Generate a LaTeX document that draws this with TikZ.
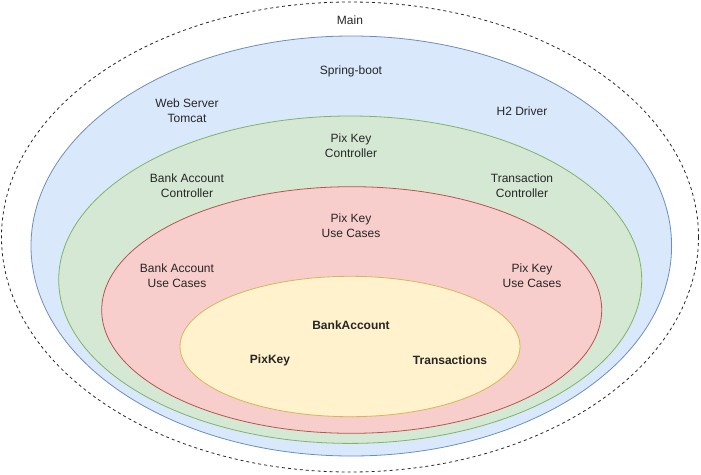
\documentclass[tikz,border=0pt]{standalone}
\usepackage{fontspec}
\setmainfont{Liberation Sans}
\begin{document}
\begin{tikzpicture}[x=1pt,y=-1pt,
  lbl/.style={align=center,font=\fontsize{12}{14.5}\selectfont,text=black!85,inner sep=0pt},
  blbl/.style={lbl,font=\fontsize{12}{14.5}\selectfont\bfseries},
  ring/.style={line width=0.8pt}]
\definecolor{bfill}{HTML}{DAE8FC}\definecolor{bline}{HTML}{6C8EBF}
\definecolor{gfill}{HTML}{D5E8D4}\definecolor{gline}{HTML}{82B366}
\definecolor{rfill}{HTML}{F8CECC}\definecolor{rline}{HTML}{B85450}
\definecolor{yfill}{HTML}{FFF2CC}\definecolor{yline}{HTML}{D6B656}
\useasboundingbox (0,0) rectangle (701,474);
\draw[black!85,dashed,line width=0.8pt,dash pattern=on 3pt off 3pt] (350,237) ellipse [x radius=348.5,y radius=235];
\draw[ring,fill=bfill,draw=bline] (351.3,246) ellipse [x radius=320.3,y radius=210];
\draw[ring,fill=gfill,draw=gline] (350.2,279.7) ellipse [x radius=291.5,y radius=163.7];
\draw[ring,fill=rfill,draw=rline] (351.7,310) ellipse [x radius=250,y radius=123.3];
\draw[ring,fill=yfill,draw=yline] (350,346.5) ellipse [x radius=170,y radius=70.2];
\node[lbl] (main) at (350,20.5) {Main};
\node[lbl] (spring) at (351,71) {Spring-boot};
\node[lbl] (web) at (187,110.5) {Web Server\\Tomcat};
\node[lbl] (h2) at (522,111) {H2 Driver};
\node[lbl] (pkc) at (351,145.5) {Pix Key\\Controller};
\node[lbl] (bac) at (187,185.5) {Bank Account\\Controller};
\node[lbl] (tc) at (522,185.5) {Transaction\\Controller};
\node[lbl] (pkuc) at (351,225.5) {Pix Key\\Use Cases};
\node[lbl] (bauc) at (177,275.5) {Bank Account\\Use Cases};
\node[lbl] (pkuc2) at (532,275.5) {Pix Key\\Use Cases};
\node[blbl] (ba) at (351,325) {BankAccount};
\node[blbl] (pk) at (270,360.5) {PixKey};
\node[blbl] (tr) at (450,360.5) {Transactions};
\end{tikzpicture}
\end{document}
